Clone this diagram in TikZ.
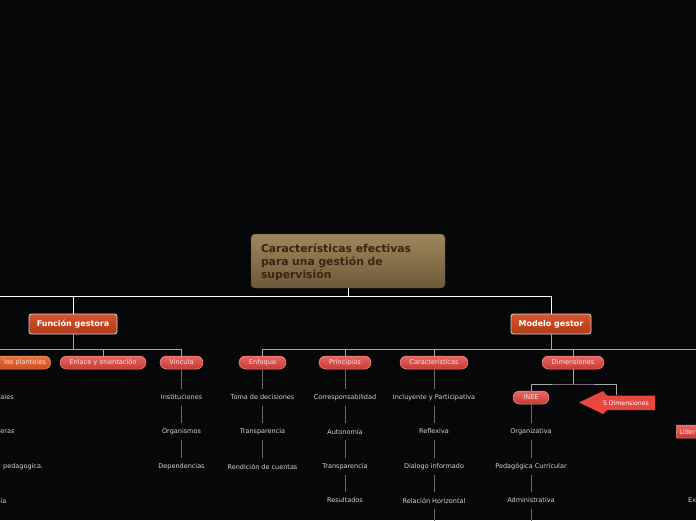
\documentclass[tikz,border=0pt]{standalone}
\usepackage{fontspec}
\setmainfont{DejaVu Sans}
\definecolor{bg}{HTML}{060709}
\definecolor{rootT}{HTML}{9E875C}
\definecolor{rootB}{HTML}{6C5A3B}
\definecolor{rootTx}{HTML}{3B2410}
\definecolor{mainT}{HTML}{D6552B}
\definecolor{mainB}{HTML}{B03A17}
\definecolor{pillT}{HTML}{E86661}
\definecolor{pillB}{HTML}{C83A36}
\definecolor{pillD}{HTML}{F29088}
\definecolor{pillTx}{HTML}{FCE3E1}
\definecolor{orT}{HTML}{EA733C}
\definecolor{orB}{HTML}{CC5020}
\definecolor{orD}{HTML}{F59A70}
\definecolor{leafTx}{HTML}{D5D5D5}
\definecolor{arrowC}{HTML}{E8473F}
\definecolor{branchC}{HTML}{A8A8A8}
\definecolor{twigC}{HTML}{6A6A6A}
\tikzset{
  rootbox/.style={rectangle, rounded corners=4pt, top color=rootT, bottom color=rootB,
    draw=rootB!80!black, line width=0.4pt, text=rootTx,
    font=\fontsize{10.8}{13}\selectfont\bfseries, align=left, text width=174pt,
    minimum height=54pt, inner xsep=10pt},
  mainbox/.style={rectangle, rounded corners=2.5pt, top color=mainT, bottom color=mainB,
    draw=white!85!black, line width=0.8pt, text=white,
    font=\fontsize{8}{9}\selectfont\bfseries, minimum height=20pt, inner xsep=0pt},
  pill/.style={rectangle, rounded corners=6.5pt, top color=pillT, bottom color=pillB,
    draw=pillD, line width=0.5pt, text=pillTx, font=\fontsize{6.6}{7.5}\selectfont,
    minimum height=13pt, inner sep=0pt},
  orpill/.style={pill, top color=orT, bottom color=orB, draw=orD},
  leaf/.style={text=leafTx, font=\fontsize{6.5}{7.5}\selectfont, inner xsep=1pt,
    inner ysep=0pt, minimum height=16pt},
  edgeleaf/.style={leaf, inner xsep=0pt},
  trunk/.style={draw=white, line width=0.8pt},
  branch/.style={draw=branchC, line width=0.8pt},
  twig/.style={draw=twigC, line width=0.8pt},
}
\begin{document}
\begin{tikzpicture}[x=1pt,y=-1pt]
\fill[bg] (0,0) rectangle (696,520);
\useasboundingbox (0,0) rectangle (696,520);
\clip (0,0) rectangle (696,520);

% root and main nodes
\node[rootbox] (root) at (348,261) {\rule{0pt}{12pt}Características efectivas\\para una gestión de\\supervisión};
\node[mainbox, minimum width=88pt] (fg) at (73,324) {Función gestora};
\node[mainbox, minimum width=80pt] (mg) at (551,324) {Modelo gestor};
\coordinate (tl) at (-10,296);
\draw[trunk] (root.south) -- (root.south |- tl);
\draw[trunk] (tl) -| (mg.north);
\draw[trunk] (fg.north) -- (fg.north |- tl);

% second level pills
\node[orpill, anchor=east, text width=71pt, align=right, inner xsep=5pt] (lp) at (51,362.5) {los planteles};
\node[pill, minimum width=86pt] (enl) at (103,362.5) {Enlace y orientación};
\node[pill, minimum width=43pt] (vin) at (181.5,362.5) {Vincula};
\node[pill, minimum width=47pt] (enf) at (262.5,362.5) {Enfoque};
\node[pill, minimum width=52pt] (pri) at (345,362.5) {Principios};
\node[pill, minimum width=68pt] (car) at (434,362.5) {Caracteristicas};
\node[pill, minimum width=62pt] (dim) at (573,362.5) {Dimensiones};

\coordinate (bl) at (-10,349);
\coordinate (br) at (706,349);
\draw[branch] (fg.south) -- (fg.south |- bl);
\draw[branch] (bl) -| (vin.north);
\draw[branch] (enl.north) -- (enl.north |- bl);
\draw[branch] (mg.south) -- (mg.south |- br);
\draw[branch] (enf.north) |- (br);
\draw[branch] (pri.north) -- (pri.north |- br);
\draw[branch] (car.north) -- (car.north |- br);
\draw[branch] (dim.north) -- (dim.north |- br);

% partial leaves at left edge
\node[edgeleaf, anchor=west] (l1) at (0.3,397.5) {ales};
\node[edgeleaf, anchor=west] (l2) at (0.3,431.5) {eras};
\node[edgeleaf, anchor=west] (l3) at (3,466.5) {pedagogica.};
\node[edgeleaf, anchor=west] (l4) at (0.3,500.5) {ía};

% Vincula
\node[leaf] (v1) at (181.5,397.5) {Instituciones};
\node[leaf] (v2) at (181.5,431.5) {Organismos};
\node[leaf] (v3) at (181.5,466.5) {Dependencias};
\draw[twig] (vin.south) -- (v1.north);
\draw[twig] (v1.south) -- (v2.north);
\draw[twig] (v2.south) -- (v3.north);

% Enfoque
\node[leaf] (e1) at (262.5,397.5) {Toma de decisiones};
\node[leaf] (e2) at (262.5,431.5) {Transparencia};
\node[leaf] (e3) at (262.5,466.5) {Rendición de cuentas};
\draw[twig] (enf.south) -- (e1.north);
\draw[twig] (e1.south) -- (e2.north);
\draw[twig] (e2.south) -- (e3.north);

% Principios
\node[leaf] (p1) at (345,397.5) {Corresponsabilidad};
\node[leaf] (p2) at (345,431.5) {Autonomía};
\node[leaf] (p3) at (345,466.5) {Transparencia};
\node[leaf] (p4) at (345,500.5) {Resultados};
\draw[twig] (pri.south) -- (p1.north);
\draw[twig] (p1.south) -- (p2.north);
\draw[twig] (p2.south) -- (p3.north);
\draw[twig] (p3.south) -- (p4.north);

% Caracteristicas
\node[leaf] (c1) at (434,397.5) {Incluyente y Participativa};
\node[leaf] (c2) at (434,431.5) {Reflexiva};
\node[leaf] (c3) at (434,466.5) {Dialogo informado};
\node[leaf] (c4) at (434,500.5) {Relación Horizontal};
\coordinate (c5) at (434,530);
\draw[twig] (car.south) -- (c1.north);
\draw[twig] (c1.south) -- (c2.north);
\draw[twig] (c2.south) -- (c3.north);
\draw[twig] (c3.south) -- (c4.north);
\draw[twig] (c4.south) -- (c5);

% Dimensiones
\node[pill, minimum width=36pt] (inee) at (531,397.5) {INEE};
\fill[arrowC] (579,402.5) -- (603,391) -- (607,395.5) -- (655,395.5) -- (655,410) -- (607,410) -- (603,414) -- cycle;
\node[text=white, font=\fontsize{6.2}{7}\selectfont, minimum height=14.5pt, inner sep=0pt] (five) at (626,402.75) {5 Dimensiones};
\coordinate (dh) at (573,384);
\draw[branch] (dim.south) -- (dh);
\draw[branch] (inee.north) |- (dh) -| (five.north -| 616,0);

\node[leaf] (i1) at (531,431.5) {Organizativa};
\node[leaf] (i2) at (531,466.5) {Pedagógica Curricular};
\node[leaf] (i3) at (531,500.5) {Administrativa};
\coordinate (i4) at (531,530);
\draw[twig] (inee.south) -- (i1.north);
\draw[twig] (i1.south) -- (i2.north);
\draw[twig] (i2.south) -- (i3.north);
\draw[twig] (i3.south) -- (i4);

% right edge partial items
\node[rectangle, rounded corners=1pt, top color=pillT, bottom color=pillB, draw=pillD,
  line width=0.5pt, text=pillTx, font=\fontsize{6.6}{7.5}\selectfont, anchor=west,
  minimum height=13pt, text width=34pt, align=left, inner xsep=3pt] (lid) at (676,431.5) {Líder};
\node[leaf, anchor=west] (ex) at (687,500.5) {Ex};
\end{tikzpicture}
\end{document}
